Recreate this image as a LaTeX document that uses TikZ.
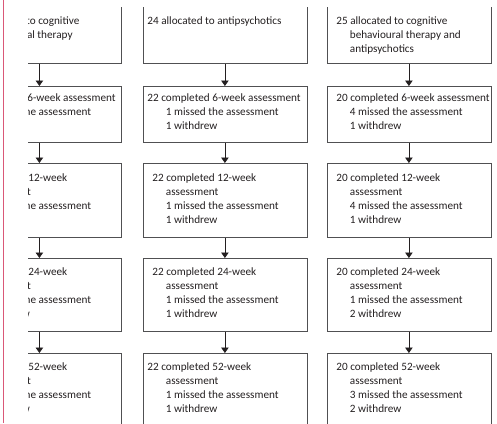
\documentclass[tikz,border=0pt]{standalone}
\usepackage{fontspec}
\setmainfont{Carlito}
\usepackage{tikz}
\usetikzlibrary{arrows.meta}
\definecolor{rulegray}{RGB}{80,80,82}
\definecolor{inkblack}{RGB}{35,31,32}
\definecolor{marginpink}{RGB}{218,88,120}

% height, first baseline, first indent, hanging indent, lines
\newcommand{\boxtext}[5]{%
  \parbox[t][#1][t]{164pt}{\raggedright\fontsize{11.2}{14}\selectfont
    \def\hangline{\\\hspace*{#4}}%
    \hspace*{#3}\rule{0pt}{#2}#5}}

\begin{document}
\begin{tikzpicture}[x=1pt,y=-1pt]
\tikzset{box/.style = {draw=rulegray, line width=0.8pt, inner sep=0pt, anchor=north west, text=inkblack}}
\tikzset{flow/.style = {-{Triangle[length=5.5pt,width=7.5pt]}, draw=inkblack, line width=0.8pt}}
\useasboundingbox (0,0) rectangle (497,423);

\begin{scope}
\clip (28,7) rectangle (497,423);
% cognitive behavioural therapy
\node[box] (cbt1) at (-43,-17) {\boxtext{80pt}{41pt}{11pt}{24pt}{26 allocated to cognitive\hangline behavioural therapy}};
\node[box] (cbt2) at (-43,86)  {\boxtext{56pt}{15.5pt}{5pt}{21pt}{23 completed 6-week assessment\hangline 3 missed the assessment}};
\node[box] (cbt3) at (-43,163) {\boxtext{74pt}{18pt}{6pt}{21pt}{22 completed 12-week\hangline assessment\hangline 4 missed the assessment}};
\node[box] (cbt4) at (-43,258) {\boxtext{73pt}{17pt}{6pt}{21pt}{21 completed 24-week\hangline assessment\hangline 4 missed the assessment\hangline 1 withdrew}};
\node[box] (cbt5) at (-43,353) {\boxtext{80pt}{17pt}{6pt}{21pt}{21 completed 52-week\hangline assessment\hangline 4 missed the assessment\hangline 1 withdrew}};

% antipsychotics
\node[box] (ap1) at (142.5,-17) {\boxtext{80pt}{41pt}{4.5pt}{23pt}{24 allocated to antipsychotics}};
\node[box] (ap2) at (142.5,86)  {\boxtext{56pt}{15.5pt}{4.5pt}{23pt}{22 completed 6-week assessment\hangline 1 missed the assessment\hangline 1 withdrew}};
\node[box] (ap3) at (142.5,163) {\boxtext{74pt}{18pt}{9.5pt}{23pt}{22 completed 12-week\hangline assessment\hangline 1 missed the assessment\hangline 1 withdrew}};
\node[box] (ap4) at (142.5,258) {\boxtext{73pt}{17pt}{9.5pt}{23pt}{22 completed 24-week\hangline assessment\hangline 1 missed the assessment\hangline 1 withdrew}};
\node[box] (ap5) at (142.5,353) {\boxtext{80pt}{17pt}{4.5pt}{23pt}{22 completed 52-week\hangline assessment\hangline 1 missed the assessment\hangline 1 withdrew}};

% combination
\node[box] (comb1) at (326.5,-17) {\boxtext{80pt}{41pt}{9.5pt}{23pt}{25 allocated to cognitive\hangline behavioural therapy and\hangline antipsychotics}};
\node[box] (comb2) at (326.5,86)  {\boxtext{56pt}{15.5pt}{9.5pt}{23pt}{20 completed 6-week assessment\hangline 4 missed the assessment\hangline 1 withdrew}};
\node[box] (comb3) at (326.5,163) {\boxtext{74pt}{18pt}{9.5pt}{23pt}{20 completed 12-week\hangline assessment\hangline 4 missed the assessment\hangline 1 withdrew}};
\node[box] (comb4) at (326.5,258) {\boxtext{73pt}{17pt}{9.5pt}{23pt}{20 completed 24-week\hangline assessment\hangline 1 missed the assessment\hangline 2 withdrew}};
\node[box] (comb5) at (326.5,353) {\boxtext{80pt}{17pt}{9.5pt}{23pt}{20 completed 52-week\hangline assessment\hangline 3 missed the assessment\hangline 2 withdrew}};

\foreach \arm in {cbt,ap,comb} {
  \draw[flow] (\arm1) -- (\arm2);
  \draw[flow] (\arm2) -- (\arm3);
  \draw[flow] (\arm3) -- (\arm4);
  \draw[flow] (\arm4) -- (\arm5);
}
\end{scope}

\draw[marginpink, line width=1.6pt] (3.3,0) -- (3.3,423);
\end{tikzpicture}
\end{document}
